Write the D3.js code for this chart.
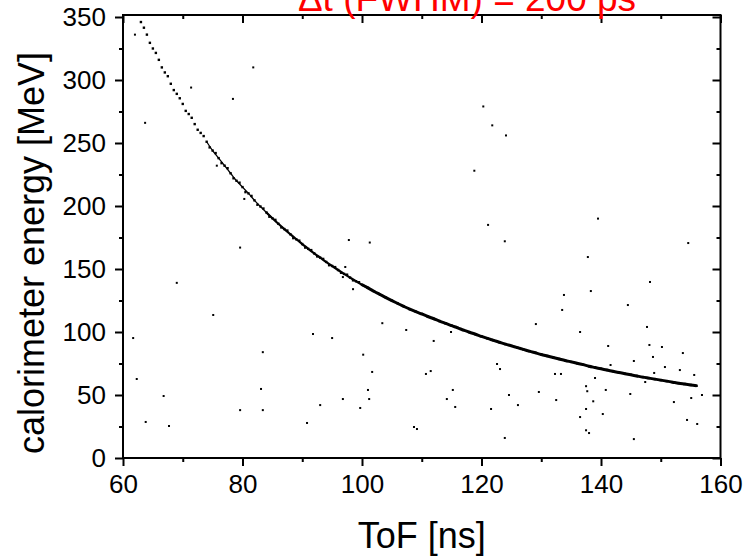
<!DOCTYPE html>
<html>
<head>
<meta charset="utf-8">
<script src="https://cdn.jsdelivr.net/npm/d3@7"></script>
<style>
  html, body { margin: 0; padding: 0; background: #fff; }
  svg { display: block; }
  text { font-family: "Liberation Sans", Arial, sans-serif; }
</style>
</head>
<body>
<svg id="chart" width="745" height="556"></svg>
<script>
// ---- data ----
const titleText = "\u0394t (FWHM) = 200 ps";
const xLabel = "ToF [ns]";
const yLabel = "calorimeter energy [MeV]";
const xTicks = [60, 80, 100, 120, 140, 160];
const xMinorTicks = [70, 90, 110, 130, 150];
const yTicks = [0, 50, 100, 150, 200, 250, 300, 350];
const yMinorTicks = [25, 75, 125, 175, 225, 275, 325];

// main correlation band (ToF in ns, energy in MeV)
const curveTof = [63,64,65,66,67,68,69,70,71,72,73,74,75,76,77,78,79,80,81,82,83,84,85,86,87,88,89,90,
  91,92,93,94,95,96,97,98,99,100,101,102,103,104,105,106,107,108,109,110,111,112,113,114,115,116,117,118,119,120,
  121,122,123,124,125,126,127,128,129,130,131,132,133,134,135,136,137,138,139,140,141,142,143,144,145,146,147,148,149,150,
  151,152,153,154,155,156];
const curveE = [346,336,325,316,306,297,289,281,273,265,258,251,244,238,232,226,220,215,210,204.5,199.6,194.9,190.3,185.9,181.7,177.6,173.6,169.8,
  166.0,162.4,159.0,155.6,152.4,149.2,146.1,143.2,140.3,137.5,135.0,132.3,129.8,127.3,124.9,122.6,120.3,118.1,116.1,114.3,112.3,110.5,108.6,106.8,105.0,103.3,101.5,99.8,98.2,96.5,
  94.9,93.4,91.9,90.4,89.0,87.6,86.2,84.8,83.5,82.2,81.0,79.8,78.6,77.4,76.3,75.2,74.1,72.8,71.8,70.8,69.8,68.8,67.8,66.9,66.0,65.1,64.2,63.4,62.6,61.8,
  61.0,60.2,59.4,58.7,58.0,57.3];

// extra points scattered along the band (sparser high-energy part)
const nearTof = [63.5,64.5,65.5,66.5,67.5,68.5,69.5,70.5,71.5,72.5,73.5,74.5,75.5,76.5,77.5,78.5,79.5,80.5,81.5,82.5,
  83.5,84.5,85.5,86.5,87.5,88.5,89.5,90.5,91.5,92.5,93.5,94.5,95.5,96.5,97.5,98.5,99.5];
const nearE = [341.5,329.5,321.5,310,303,292,285.5,275.5,270,260.5,255.5,246.5,242,234,230,222,218.5,211,208,201,
  198,191.5,189,183,180.5,174.5,172.5,167,165,160,158,153,151.5,147,145.5,141,139.5];

// isolated events
const outTof = [62.0,61.7,62.3,63.7,63.8,66.8,67.7,69.0,71.4,75.1,75.7,78.4,79.6,79.6,80.3,81.8,83.4,83.1,83.4,
  90.8,91.8,93.0,95.0,96.8,96.8,97.2,97.8,98.5,99.7,100.2,101.0,101.2,101.3,101.7,103.4,107.4,108.7,109.2,
  110.7,111.5,112.0,114.2,114.9,115.2,115.6,118.8,120.3,121.1,121.6,121.8,122.6,123.1,123.9,123.9,124.1,124.6,126.1,
  129.1,129.6,132.3,132.5,133.3,133.5,133.8,136.5,136.5,137.5,137.7,137.5,137.5,138.0,137.8,138.3,138.7,139.0,139.5,
  140.3,140.8,141.2,141.6,144.5,144.9,145.5,145.5,147.4,147.7,148.1,148.2,148.7,148.9,150.2,150.7,152.2,153.2,153.7,
  154.4,154.6,155.1,155.6,156.1,156.9];
const outE = [336,95.2,62.7,266,28.6,49.2,25.4,139,294,113.5,232,285,167,38,205.6,310,84,54.8,38,
  27.8,98.4,42,95.2,143.6,46.8,151.6,173,134,39.7,82,54,46.8,171,68.3,107,101.6,24.6,23,
  66.7,69,92.9,46.8,100,54,40.5,228,279,185,38.9,264,74.6,70.6,15.9,172,256,50,42,
  106.3,52.4,66.7,46,66.7,117.5,129.4,100,32.5,57,53,38.9,22,19.8,159.5,132.5,45,63.5,190,
  34.9,54,88.9,73.8,121.4,50.8,15,77,60.3,104,89.7,139.7,80.2,67.5,88.1,72.2,44.4,69.8,83.3,
  30.2,170.6,47.6,65.9,27,50];

// ---- layout ----
const svg = d3.select("#chart");
const plot = { left: 123, right: 720.5, top: 15, bottom: 458 };

const x = d3.scaleLinear().domain([60, 160]).range([plot.left, plot.right]);
const y0 = d3.scaleLinear().domain([0, 350]).range([plot.bottom, 17]);
const y = d3.scaleLinear().domain([0, y0.invert(plot.top)]).range([plot.bottom, plot.top]);

const fontTick = 26;
const fontTitle = 36;

// ---- marks ----
const g = svg.append("g");

const bandPts = curveTof.map((t, i) => [t, curveE[i]]);
const line = d3.line().x(d => x(d[0])).y(d => y(d[1])).curve(d3.curveCatmullRom);
g.append("path").datum(bandPts.filter(d => d[0] >= 74 && d[0] <= 85))
  .attr("fill", "none").attr("stroke", "#000").attr("stroke-width", 1.3).attr("d", line);
g.append("path").datum(bandPts.filter(d => d[0] >= 84 && d[0] <= 101))
  .attr("fill", "none").attr("stroke", "#000").attr("stroke-width", 2.2).attr("d", line);
g.append("path").datum(bandPts.filter(d => d[0] >= 100))
  .attr("fill", "none").attr("stroke", "#000").attr("stroke-width", 3).attr("d", line);

function drawDots(tofs, es, s) {
  g.append("g").selectAll("rect").data(tofs.map((t, i) => [t, es[i]])).join("rect")
    .attr("x", d => x(d[0]) - s / 2).attr("y", d => y(d[1]) - s / 2)
    .attr("width", s).attr("height", s).attr("fill", "#000");
}
drawDots(curveTof, curveE, 2.4);
drawDots(nearTof, nearE, 2.4);
drawDots(outTof, outE, 2);

// ---- axes ----
const axisW = 2;
function styleAxis(sel) {
  sel.select(".domain").remove();
  sel.selectAll(".tick line").attr("stroke", "#000").attr("stroke-width", axisW);
  sel.selectAll(".tick text").attr("font-size", fontTick).attr("fill", "#000")
     .attr("font-family", "Liberation Sans, Arial, sans-serif");
}
svg.append("g").attr("transform", `translate(0,${plot.bottom})`)
  .call(d3.axisBottom(x).tickValues(xTicks).tickFormat(d3.format("d")).tickSize(8).tickPadding(9)).call(styleAxis);
svg.append("g").attr("transform", `translate(0,${plot.bottom})`)
  .call(d3.axisBottom(x).tickValues(xMinorTicks).tickFormat("").tickSize(4)).call(styleAxis);
svg.append("g").attr("transform", `translate(0,${plot.top})`)
  .call(d3.axisBottom(x).tickValues(xTicks).tickFormat("").tickSize(8)).call(styleAxis);
svg.append("g").attr("transform", `translate(0,${plot.top})`)
  .call(d3.axisBottom(x).tickValues(xMinorTicks).tickFormat("").tickSize(4)).call(styleAxis);
svg.append("g").attr("transform", `translate(${plot.left},0)`)
  .call(d3.axisLeft(y).tickValues(yTicks).tickFormat(d3.format("d")).tickSize(8).tickPadding(9)).call(styleAxis);
svg.append("g").attr("transform", `translate(${plot.left},0)`)
  .call(d3.axisLeft(y).tickValues(yMinorTicks).tickFormat("").tickSize(4)).call(styleAxis);
svg.append("g").attr("transform", `translate(${plot.right},0)`)
  .call(d3.axisLeft(y).tickValues(yTicks).tickFormat("").tickSize(8)).call(styleAxis);
svg.append("g").attr("transform", `translate(${plot.right},0)`)
  .call(d3.axisLeft(y).tickValues(yMinorTicks).tickFormat("").tickSize(4)).call(styleAxis);

svg.append("rect").attr("x", plot.left).attr("y", plot.top)
  .attr("width", plot.right - plot.left).attr("height", plot.bottom - plot.top)
  .attr("fill", "none").attr("stroke", "#000").attr("stroke-width", axisW);

// ---- labels ----
svg.append("text").attr("x", (plot.left + plot.right) / 2).attr("y", 548)
  .attr("text-anchor", "middle").attr("font-size", fontTitle).attr("fill", "#000").text(xLabel);
svg.append("text").attr("transform", `translate(44,253) rotate(-90)`)
  .attr("text-anchor", "middle").attr("font-size", fontTitle).attr("fill", "#000").text(yLabel);
svg.append("text").attr("x", 467).attr("y", 11)
  .attr("text-anchor", "middle").attr("font-size", 37).attr("fill", "#ff0000").text(titleText);
</script>
</body>
</html>
